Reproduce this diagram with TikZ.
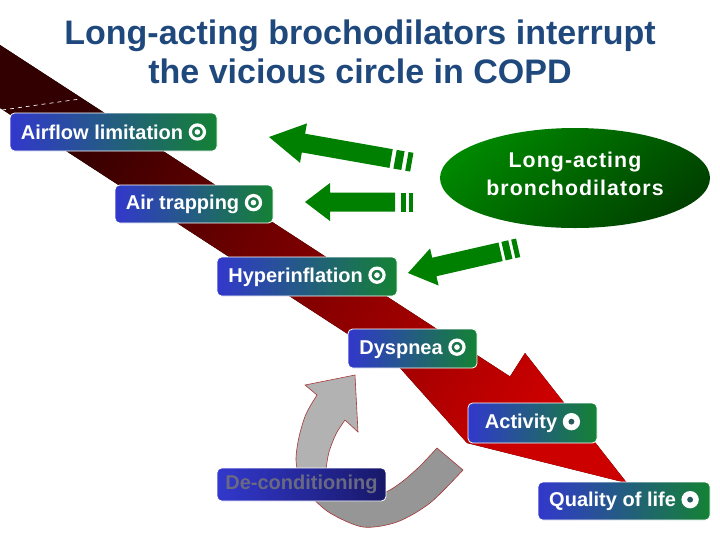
\documentclass[tikz,border=0pt]{standalone}
\usepackage{fontspec}
\setmainfont{Liberation Sans}
\newfontfamily\ellfont[LetterSpace=5]{Liberation Sans}
\usetikzlibrary{shapes.geometric}
\definecolor{titleblue}{RGB}{31,73,125}
\definecolor{boxblue}{RGB}{50,56,204}
\definecolor{boxgreen}{RGB}{20,130,52}
\definecolor{navyend}{RGB}{24,24,105}
\definecolor{bandDark}{RGB}{50,0,0}
\definecolor{bandRed}{RGB}{205,0,0}
\definecolor{arrgreen}{RGB}{0,128,0}
\definecolor{ellA}{RGB}{0,135,0}
\definecolor{ellB}{RGB}{0,65,0}
\definecolor{lgray}{RGB}{178,178,178}
\definecolor{dgray}{RGB}{150,150,150}
\definecolor{grayedge}{RGB}{165,55,55}
\definecolor{detext}{RGB}{105,105,130}
\definecolor{dotc}{RGB}{40,90,95}
\newcommand\ringsym{\tikz[baseline=-5.4pt]{\draw[white,line width=2.4pt] (0,0) circle[radius=5.3pt]; \fill[white] (0,0) circle[radius=2.1pt];}}
\newcommand\discsym{\tikz[baseline=-5.4pt]{\fill[white] (0,0) circle[radius=6.5pt]; \fill[dotc] (0,0) circle[radius=2.2pt];}}
\tikzset{
  symbox/.style={draw=white, line width=0.6pt, rounded corners=3.5pt,
    left color=boxblue, right color=boxgreen, text=white, inner sep=0pt,
    font=\bfseries\fontsize{15}{18}\selectfont},
  decobox/.style={symbox, right color=navyend, text=detext},
  garrfill/.style={fill=arrgreen},
  grayarc/.style={draw=grayedge, line width=0.45pt},
}
\begin{document}
\begin{tikzpicture}[x=0.75pt, y=-0.75pt]
\useasboundingbox (0,0) rectangle (720,540);
\fill[white] (0,0) rectangle (720,540);

% title
\node[anchor=base, text=titleblue, font=\bfseries\fontsize{25.5}{30}\selectfont, inner sep=0pt] (t1) at (360,44) {Long-acting brochodilators interrupt};
\node[anchor=base, text=titleblue, font=\bfseries\fontsize{25.5}{30}\selectfont, inner sep=0pt] (t2) at (360,83) {the vicious circle in COPD};

% big red band arrow
\fill[top color=bandDark, bottom color=bandRed, shading angle=57]
  (0,45) -- (510,376.5) -- (525,353) -- (627,483) -- (467,443) -- (400,368) -- (0,108) -- cycle;
\draw[white, dashed, line width=0.5pt] (2,110) -- (80,99);

% gray cycle arrows
\filldraw[fill=dgray, grayarc]
  plot[smooth] coordinates {(463,470) (430,503) (397,522) (363,527) (330,513) (310,495) (302,480)}
  -- plot[smooth] coordinates {(330,480) (345,492) (365,497) (386,492) (403,481) (420,466) (437,448)}
  -- cycle;
\filldraw[fill=lgray, grayarc]
  plot[smooth] coordinates {(300,485) (296,460) (299,437) (306,414) (317,395)}
  -- (305,385) -- (355,375) -- (358,432) -- (345,420)
  -- plot[smooth] coordinates {(345,420) (336,434) (329,452) (326,470) (326,485)}
  -- cycle;

% green striped arrows
\begin{scope}[shift={(269,137)}, rotate=-10]
  \fill[garrfill] (0,0) -- (35,-20) -- (35,-9.5) -- (124,-9.5) -- (124,9.5) -- (35,9.5) -- (35,20) -- cycle;
  \fill[garrfill] (128,-9.5) rectangle (136,9.5);
  \fill[garrfill] (140,-9.5) rectangle (145,9.5);
\end{scope}
\begin{scope}[shift={(305,202)}]
  \fill[garrfill] (0,0) -- (25,-19) -- (25,-9.5) -- (90,-9.5) -- (90,9.5) -- (25,9.5) -- (25,19) -- cycle;
  \fill[garrfill] (96,-9.5) rectangle (101,9.5);
  \fill[garrfill] (104,-9.5) rectangle (108,9.5);
\end{scope}
\begin{scope}[shift={(408,273)}, rotate=12.9]
  \fill[garrfill] (0,0) -- (27,-19) -- (27,-9.5) -- (95,-9.5) -- (95,9.5) -- (27,9.5) -- (27,19) -- cycle;
  \fill[garrfill] (98,-9.5) rectangle (105,9.5);
  \fill[garrfill] (108,-9.5) rectangle (113,9.5);
\end{scope}

% ellipse
\node[ellipse, minimum width=202.5pt, minimum height=75pt, inner sep=0pt,
  top color=ellA, bottom color=ellB, shading angle=40] (lab) at (575,178) {};
\node[text=white, align=center, inner sep=0pt, font=\ellfont\bfseries\fontsize{16}{21}\selectfont] (labtext) at (575,174) {Long-acting\\bronchodilators};

% boxes
\node[symbox, minimum width=155.25pt, minimum height=28.5pt] (airflow) at (113.5,132) {Airflow limitation \ringsym};
\node[symbox, minimum width=118.5pt, minimum height=28.5pt] (trap) at (194,204) {Air trapping \ringsym};
\node[symbox, minimum width=135pt, minimum height=29.25pt] (hyper) at (307,276.5) {Hyperinflation \ringsym};
\node[symbox, minimum width=96.75pt, minimum height=29.25pt] (dysp) at (412.5,348.5) {Dyspnea \ringsym};
\node[symbox, minimum width=96.75pt, minimum height=30pt] (act) at (532.5,423) {Activity \discsym};
\node[symbox, minimum width=129pt, minimum height=28.5pt] (qol) at (624,501) {Quality of life \discsym};
\node[decobox, minimum width=126.75pt, minimum height=24.75pt] (decond) at (301.5,484.5) {De-conditioning};
\end{tikzpicture}
\end{document}
